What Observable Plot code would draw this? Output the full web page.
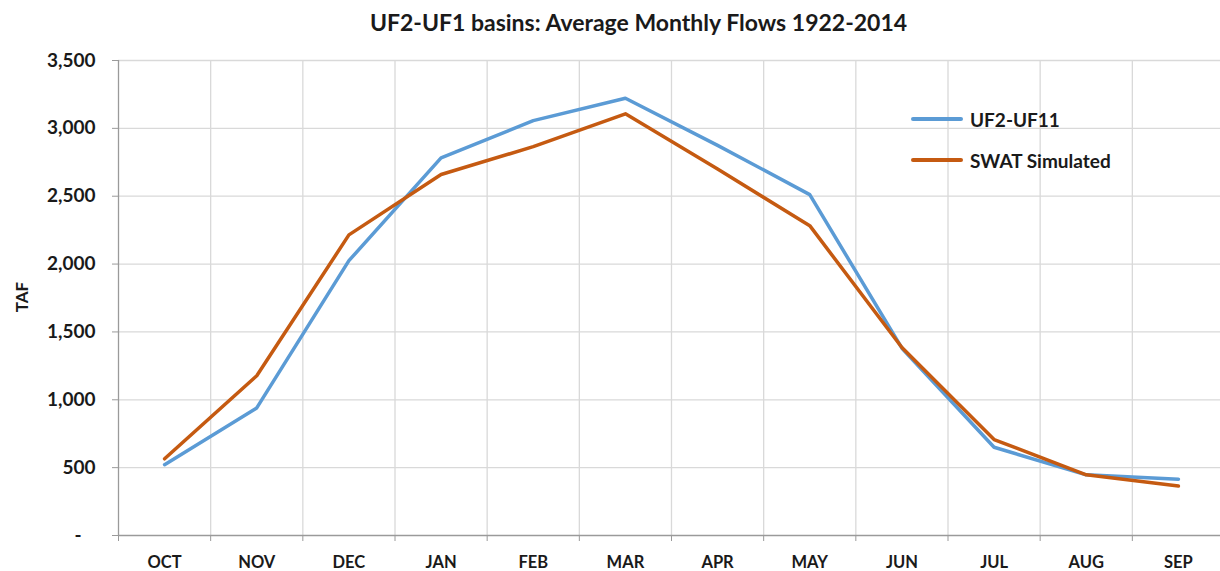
<!DOCTYPE html>
<html>
<head>
<meta charset="utf-8">
<script src="https://cdn.jsdelivr.net/npm/d3@7"></script>
<script src="https://cdn.jsdelivr.net/npm/@observablehq/plot@0.6"></script>
<style>
  html, body { margin: 0; padding: 0; background: #fff; }
  #wrap { position: relative; width: 1220px; height: 571px; font-family: Lato, "Open Sans", sans-serif; overflow: hidden; }
  #title { position: absolute; left: 0; width: 1277px; top: 0; height: 44px; line-height: 44px; text-align: center; font-size: 23px; font-weight: bold; color: #1a1a1a; }
  #chart { position: absolute; left: 0; top: 44px; }
  #ylabel { position: absolute; left: 21px; top: 297px; transform: translate(-50%, -50%) rotate(-90deg); font-size: 17px; font-weight: bold; color: #1a1a1a; white-space: nowrap; }
  .leg { position: absolute; left: 911px; display: flex; align-items: center; font-size: 19px; font-weight: bold; color: #1a1a1a; height: 24px; }
  .leg span.sw { display: inline-block; width: 52px; height: 4px; margin-right: 7px; border-radius: 2px; }
</style>
</head>
<body>
<div id="wrap">
  <div id="title">UF2-UF1 basins: Average Monthly Flows 1922-2014</div>
  <div id="chart"></div>
  <div id="ylabel">TAF</div>
  <div class="leg" style="top:107px"><span class="sw" style="background:#5B9BD5"></span>UF2-UF11</div>
  <div class="leg" style="top:148px"><span class="sw" style="background:#C55A11"></span>SWAT Simulated</div>
</div>
<script>
const months = ["OCT","NOV","DEC","JAN","FEB","MAR","APR","MAY","JUN","JUL","AUG","SEP"];
const observed = [522, 940, 2025, 2782, 3057, 3222, 2875, 2512, 1380, 650, 447, 415];
const swat = [565, 1177, 2215, 2660, 2865, 3107, 2700, 2283, 1385, 707, 447, 364];
const yTicks = [0, 500, 1000, 1500, 2000, 2500, 3000, 3500];
const seriesNames = ["UF2-UF11", "SWAT Simulated"];
const colors = ["#5B9BD5", "#C55A11"];

const rows = [];
months.forEach((m, i) => {
  rows.push({month: m, idx: i + 0.5, value: observed[i], series: seriesNames[0]});
  rows.push({month: m, idx: i + 0.5, value: swat[i], series: seriesNames[1]});
});
const boundaries = d3.range(0, months.length + 1);
const centers = months.map((m, i) => i + 0.5);

const chart = Plot.plot({
  width: 1220,
  height: 526,
  marginTop: 16,
  marginBottom: 35,
  marginLeft: 118,
  marginRight: 0,
  style: {fontFamily: "Lato, 'Open Sans', sans-serif", fontSize: "16px", fontWeight: "bold", color: "#1a1a1a", background: "transparent", overflow: "visible"},
  x: {domain: [0, months.length], range: [118, 1224]},
  y: {domain: [0, 3500]},
  color: {domain: seriesNames, range: colors},
  marks: [
    Plot.ruleY(yTicks.filter(d => d > 0), {stroke: "#d9d9d9", strokeWidth: 1.3, strokeOpacity: 1}),
    Plot.ruleX(boundaries.slice(1, -1), {stroke: "#d9d9d9", strokeWidth: 1.3, strokeOpacity: 1}),
    Plot.axisY({
      ticks: yTicks,
      tickFormat: d => d === 0 ? "-\u00a0\u00a0\u00a0" : d3.format(",")(d),
      tickSize: 6,
      tickPadding: 17,
      stroke: "#9a9a9a",
      fontSize: 19,
      label: null
    }),
    Plot.axisX({ticks: boundaries, tickSize: 6, tickFormat: () => "", stroke: "#9a9a9a", label: null}),
    Plot.axisX({ticks: centers, tickSize: 0, tickPadding: 21, fontSize: 16.5, tickFormat: d => months[Math.floor(d)], label: null}),
    Plot.ruleX([0], {stroke: "#9a9a9a", strokeWidth: 1.3}),
    Plot.ruleY([0], {stroke: "#9a9a9a", strokeWidth: 1.3}),
    Plot.line(rows, {x: "idx", y: "value", z: "series", stroke: "series", strokeWidth: 3.5, strokeLinejoin: "round", strokeLinecap: "round"})
  ]
});
document.getElementById("chart").appendChild(chart);
</script>
</body>
</html>
